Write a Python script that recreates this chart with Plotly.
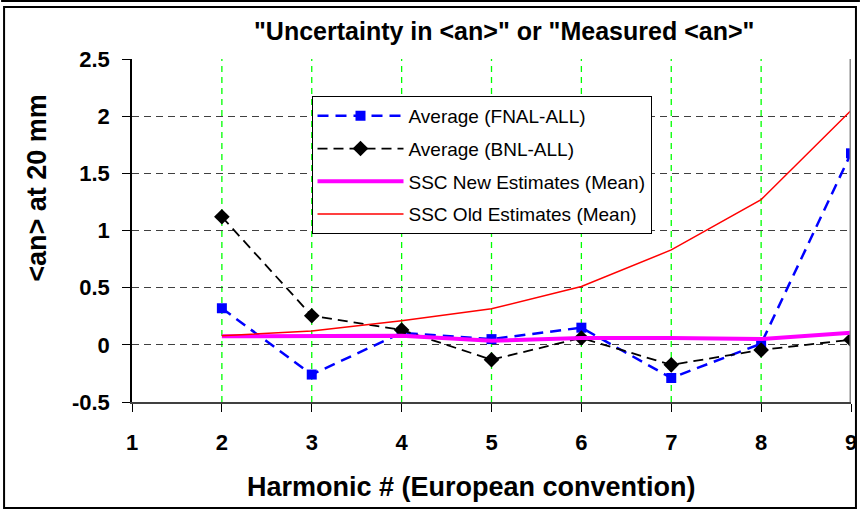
import plotly.graph_objects as go

harmonics = [2, 3, 4, 5, 6, 7, 8, 9]
fnal_avg = [0.32, -0.26, 0.105, 0.05, 0.15, -0.29, 0.01, 1.675]
bnl_avg = [1.12, 0.255, 0.13, -0.13, 0.06, -0.175, -0.045, 0.045]
ssc_new = [0.075, 0.075, 0.08, 0.035, 0.06, 0.06, 0.05, 0.105]
ssc_old = [0.08, 0.12, 0.21, 0.315, 0.51, 0.83, 1.27, 2.05]

x_ticks = [1, 2, 3, 4, 5, 6, 7, 8, 9]
y_ticks = [-0.5, 0, 0.5, 1, 1.5, 2, 2.5]
y_tick_text = ["-0.5", "0", "0.5", "1", "1.5", "2", "2.5"]

FONT = "Liberation Sans, Arial, sans-serif"

fig = go.Figure()
fig.add_trace(go.Scatter(
    x=harmonics, y=fnal_avg, name="Average (FNAL-ALL)", legendgroup="a",
    mode="lines+markers",
    line=dict(color="#0000FF", width=2.5, dash="11px,7px"),
    marker=dict(symbol="square", size=10, color="#0000FF")))
fig.add_trace(go.Scatter(
    x=harmonics, y=bnl_avg, name="Average (BNL-ALL)", legendgroup="b",
    mode="lines+markers",
    line=dict(color="black", width=1.8, dash="10px,6px"),
    marker=dict(symbol="diamond", size=12, color="black")))
fig.add_trace(go.Scatter(
    x=harmonics, y=ssc_new, name="SSC New Estimates (Mean)", legendgroup="c",
    mode="lines", line=dict(color="#FF00FF", width=4)))
fig.add_trace(go.Scatter(
    x=harmonics, y=ssc_old, name="SSC Old Estimates (Mean)", legendgroup="d",
    mode="lines", line=dict(color="#FF0000", width=1.5)))

# px -> paper helpers for decorations
L, R, T, B = 132, 857, 59, 402
def px(x):
    return (x - L) / (R - L)
def py(y):
    return (B - y) / (B - T)

shapes = []
# vertical green dashed gridlines at the inner harmonic ticks
for xv in x_ticks[1:-1]:
    shapes.append(dict(type="line", xref="x", yref="paper", x0=xv, x1=xv,
                       y0=0, y1=1, layer="below",
                       line=dict(color="#00FF00", width=1.3, dash="6px,5px")))
shapes += [
    dict(type="line", xref="x", yref="paper", x0=x_ticks[-1], x1=x_ticks[-1],
         y0=0, y1=1, line=dict(color="#888888", width=3)),
    dict(type="rect", xref="paper", yref="paper",
         x0=px(3), x1=px(862), y0=py(508), y1=py(7),
         line=dict(color="black", width=2), layer="above"),
    dict(type="line", xref="paper", yref="paper",
         x0=px(0), x1=px(866), y0=py(1), y1=py(1),
         line=dict(color="black", width=2)),
]

fig.update_layout(
    width=866, height=512,
    margin=dict(l=L, r=866 - R, t=T, b=512 - B),
    paper_bgcolor="white", plot_bgcolor="white",
    font=dict(family=FONT, color="black"),
    showlegend=True,
    legend=dict(
        x=px(313), y=py(96), xanchor="left", yanchor="top",
        bgcolor="white", bordercolor="black", borderwidth=1,
        font=dict(family=FONT, size=19, color="black"),
        traceorder="grouped", tracegroupgap=5,
        itemwidth=86),
    xaxis=dict(
        range=[1, 9], tickvals=x_ticks, ticktext=[str(v) for v in x_ticks],
        showline=True, linecolor="#404040", linewidth=2,
        ticks="outside", ticklen=8, tickcolor="black", tickwidth=1,
        showgrid=False,
        zeroline=False, ticklabelstandoff=12,
        tickfont=dict(family=FONT, size=22, weight="bold", color="black")),
    yaxis=dict(
        range=[-0.5, 2.5], tickvals=y_ticks, ticktext=y_tick_text,
        showline=True, linecolor="black", linewidth=1.5,
        ticks="outside", ticklen=8, tickcolor="black", tickwidth=1,
        showgrid=True, gridcolor="#404040", griddash="7px,5px", gridwidth=1,
        zeroline=False, ticklabelstandoff=8,
        tickfont=dict(family=FONT, size=22, weight="bold", color="black")),
    annotations=[
        dict(text='"Uncertainty in <an>" or "Measured <an>"',
             xref="paper", yref="paper", x=px(507), y=py(31),
             xanchor="center", yanchor="middle", showarrow=False,
             font=dict(family=FONT, size=25, weight="bold", color="black")),
        dict(text="Harmonic # (European convention)",
             xref="paper", yref="paper", x=px(474), y=py(487),
             xanchor="center", yanchor="middle", showarrow=False,
             font=dict(family=FONT, size=27, weight="bold", color="black")),
        dict(text="<an> at 20 mm", textangle=-90,
             xref="paper", yref="paper", x=px(36), y=py(188),
             xanchor="center", yanchor="middle", showarrow=False,
             font=dict(family=FONT, size=27, weight="bold", color="black")),
    ],
    shapes=shapes,
)

fig.write_html(
    "out.html",
    config={"displayModeBar": False},
    post_script="document.body.style.margin='0';document.body.style.overflow='hidden';",
)
